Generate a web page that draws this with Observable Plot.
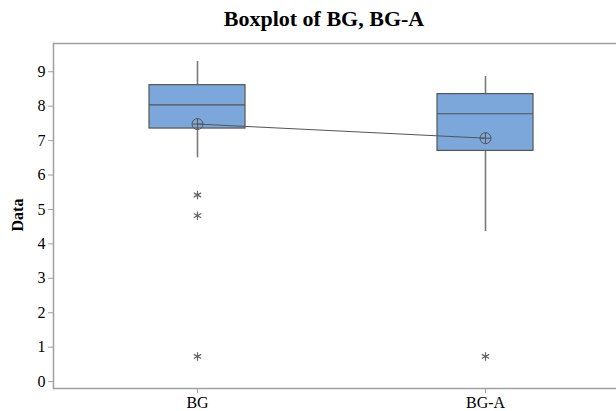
<!DOCTYPE html>
<html>
<head>
<meta charset="utf-8">
<script src="https://cdn.jsdelivr.net/npm/d3@7"></script>
<script src="https://cdn.jsdelivr.net/npm/@observablehq/plot@0.6"></script>
<style>
  html, body { margin: 0; padding: 0; background: #fff; overflow: hidden; }
  #wrap { position: relative; width: 616px; height: 411px; }
  #title { position: absolute; left: 324px; top: 6px; transform: translateX(-50%);
           font: bold 22px "Liberation Serif", "Times New Roman", serif; white-space: nowrap; color: #000; }
  #ylabel { position: absolute; left: 18px; top: 215px; transform: translate(-50%, -50%) rotate(-90deg);
           font: bold 16px "Liberation Serif", "Times New Roman", serif; white-space: nowrap; color: #000; }
  #chart { position: absolute; left: 0; top: 0; }
  #chart svg text { font-family: "Liberation Serif", "Times New Roman", serif !important; font-size: 16px !important; }
</style>
</head>
<body>
<div id="wrap">
  <div id="chart"></div>
  <div id="title">Boxplot of BG, BG-A</div>
  <div id="ylabel">Data</div>
</div>
<script>
const categories = ["BG", "BG-A"];
const q1 = [7.35, 6.70];
const median = [8.04, 7.78];
const q3 = [8.61, 8.35];
const whiskerLow = [6.50, 4.36];
const whiskerHigh = [9.30, 8.86];
const means = [7.48, 7.07];
const outlierGroup = ["BG", "BG", "BG", "BG-A"];
const outlierValue = [5.42, 4.82, 0.73, 0.73];
const yTicks = [0, 1, 2, 3, 4, 5, 6, 7, 8, 9];

const boxes = categories.map((c, i) => ({
  cat: c, q1: q1[i], med: median[i], q3: q3[i],
  lo: whiskerLow[i], hi: whiskerHigh[i], mean: means[i]
}));
const outliers = outlierGroup.map((c, i) => ({cat: c, v: outlierValue[i]}));

const meanSymbol = {
  draw(ctx, size) {
    const r = Math.sqrt(size / Math.PI);
    ctx.moveTo(r, 0);
    ctx.arc(0, 0, r, 0, 2 * Math.PI);
    ctx.moveTo(-r, 0); ctx.lineTo(r, 0);
    ctx.moveTo(0, -r); ctx.lineTo(0, r);
  }
};

const W = 616, H = 411;
const pLeft = 53, pRight = 629, pTop = 43, pBottom = 388;
const serif = "Liberation Serif, Times New Roman, serif";
const yLo = -0.2, yHi = 9.82;

const plot = Plot.plot({
  width: W,
  height: H,
  marginLeft: pLeft,
  marginTop: pTop,
  marginBottom: H - pBottom,
  marginRight: 0,
  style: {background: "white", fontFamily: serif, fontSize: "16px", color: "#000", overflow: "hidden"},
  x: {type: "band", domain: categories, range: [pLeft, pRight], padding: 0, label: null},
  y: {domain: [yLo, yHi], range: [pBottom, pTop], label: null},
  marks: [
    Plot.axisY({ticks: yTicks, tickSize: 5, tickPadding: 3, stroke: "#a0a0a0", fill: "#000",
      fontSize: 16, fontFamily: serif, tickFormat: d => d, label: null}),
    Plot.axisX({tickSize: 5, tickPadding: 3, stroke: "#a0a0a0", fill: "#000",
      fontSize: 16, fontFamily: serif, label: null}),
    Plot.ruleY([yLo, yHi], {stroke: "#a0a0a0", strokeWidth: 1.5}),
    Plot.frame({anchor: "left", stroke: "#a0a0a0", strokeWidth: 1.5}),
    // whiskers
    Plot.ruleX(boxes, {x: "cat", y1: "q3", y2: "hi", stroke: "#7a7a7a", strokeWidth: 1.6}),
    Plot.ruleX(boxes, {x: "cat", y1: "lo", y2: "q1", stroke: "#7a7a7a", strokeWidth: 1.6}),
    // boxes
    Plot.barY(boxes, {x: "cat", y1: "q1", y2: "q3", fill: "#7ba7da", stroke: "#555",
      strokeWidth: 1.2, insetLeft: 96, insetRight: 96}),
    // medians
    Plot.tickY(boxes, {x: "cat", y: "med", stroke: "#555", strokeWidth: 1.2, insetLeft: 96, insetRight: 96}),
    // mean connect line
    Plot.lineY(boxes, {x: "cat", y: "mean", stroke: "#555", strokeWidth: 1}),
    Plot.dot(boxes, {x: "cat", y: "mean", symbol: meanSymbol, r: 5.5, stroke: "#555", strokeWidth: 1, fill: "none"}),
    // outliers
    Plot.dot(outliers, {x: "cat", y: "v", symbol: "asterisk", r: 4, stroke: "#666", strokeWidth: 1.2})
  ]
});
document.getElementById("chart").appendChild(plot);
</script>
</body>
</html>
